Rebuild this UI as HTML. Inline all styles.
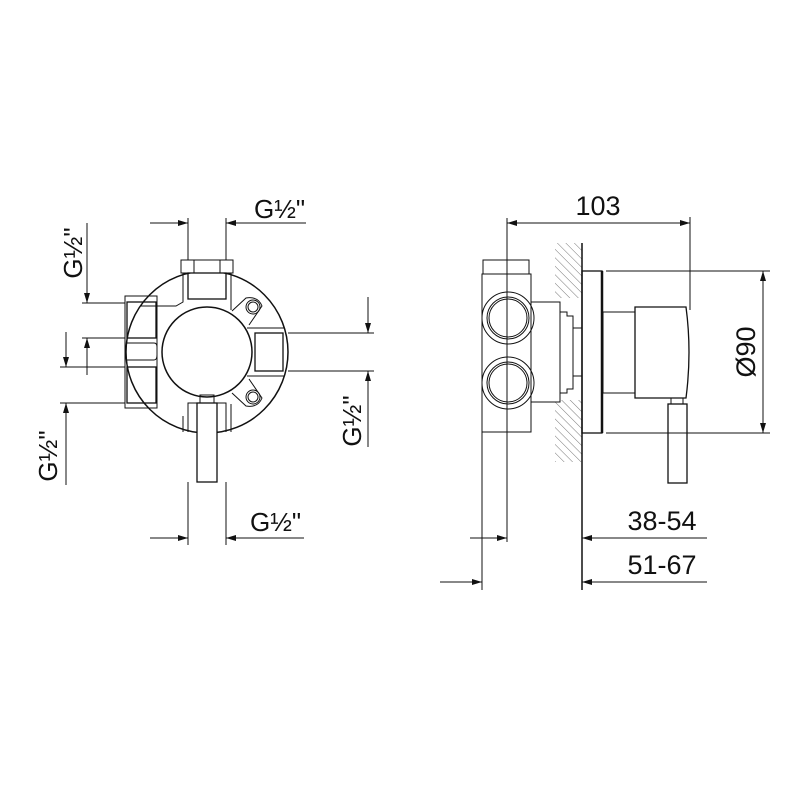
<!DOCTYPE html>
<html><head><meta charset="utf-8"><style>
html,body{margin:0;padding:0;background:#fff}
svg{display:block}
text{font-family:"Liberation Sans",sans-serif;fill:#111}
</style></head><body>
<svg width="800" height="800" viewBox="0 0 800 800" xmlns="http://www.w3.org/2000/svg">
<defs>
<marker id="a" viewBox="0 0 10 6" refX="10" refY="3" markerWidth="10" markerHeight="6" orient="auto" markerUnits="userSpaceOnUse"><path d="M0,0 L10,3 L0,6z" fill="#111"/></marker>
<pattern id="h" width="6" height="6" patternUnits="userSpaceOnUse" patternTransform="rotate(-45)"><line x1="0" y1="0" x2="0" y2="6" stroke="#777" stroke-width="1"/></pattern>
</defs>
<g stroke="#111" stroke-width="1" fill="none">
<!-- LEFT VIEW -->
<circle cx="207" cy="352" r="81" stroke-width="1.5"/>
<circle cx="207" cy="352" r="45" stroke-width="1.5"/>
<!-- top nut and port -->
<rect x="181" y="260" width="52" height="13" fill="#fff"/>
<line x1="194" y1="260" x2="194" y2="273"/><line x1="220" y1="260" x2="220" y2="273"/>
<rect x="188" y="273" width="38" height="26" stroke-width="1.3"/>
<path d="M183 273 V302 L176 306 H140 M231 273 V310"/>
<!-- left ports -->
<rect x="125" y="296" width="32" height="112"/>
<rect x="127" y="302" width="29" height="36" stroke-width="1.3"/>
<rect x="127" y="367" width="29" height="36" stroke-width="1.3"/>
<path d="M127 343 H154 Q157 343 157 347 V355 Q157 360 154 360 H127"/>
<!-- right port -->
<rect x="255" y="333" width="28" height="38" stroke-width="1.3"/>
<path d="M247 328 H285 M247 376 H285"/>
<!-- bolt lugs -->
<path d="M232 311 L246 298 Q258 296 262 306 L249 325"/>
<circle cx="253" cy="307" r="7"/><circle cx="253" cy="307" r="5"/>
<path d="M232 393 L246 406 Q258 408 262 398 L249 379"/>
<circle cx="253" cy="397" r="7"/><circle cx="253" cy="397" r="5"/>
<!-- bottom port/handle -->
<path d="M188 432 V403 H226 V432 M183 432 V416 M231 432 V404"/>
<rect x="200" y="395" width="14" height="8"/>
<rect x="197" y="403" width="20" height="79" fill="#fff" stroke-width="1.3"/>
<!-- dims top -->
<line x1="188" y1="218" x2="188" y2="260"/><line x1="226" y1="218" x2="226" y2="260"/>
<line x1="150" y1="223" x2="188" y2="223" marker-end="url(#a)"/>
<line x1="306" y1="223" x2="226" y2="223" marker-end="url(#a)"/>
<!-- dims bottom -->
<line x1="188" y1="482" x2="188" y2="545"/><line x1="226" y1="482" x2="226" y2="545"/>
<line x1="150" y1="538" x2="188" y2="538" marker-end="url(#a)"/>
<line x1="304" y1="538" x2="226" y2="538" marker-end="url(#a)"/>
<!-- left dim 1 -->
<line x1="82" y1="303" x2="125" y2="303"/><line x1="82" y1="338" x2="125" y2="338"/>
<line x1="87" y1="223" x2="87" y2="303" marker-end="url(#a)"/>
<line x1="87" y1="375" x2="87" y2="338" marker-end="url(#a)"/>
<!-- left dim 2 -->
<line x1="60" y1="367" x2="125" y2="367"/><line x1="60" y1="403" x2="125" y2="403"/>
<line x1="66" y1="332" x2="66" y2="367" marker-end="url(#a)"/>
<line x1="66" y1="485" x2="66" y2="403" marker-end="url(#a)"/>
<!-- right dim -->
<line x1="288" y1="333" x2="374" y2="333"/><line x1="288" y1="371" x2="374" y2="371"/>
<line x1="368" y1="297" x2="368" y2="333" marker-end="url(#a)"/>
<line x1="368" y1="447" x2="368" y2="371" marker-end="url(#a)"/>

<!-- RIGHT VIEW -->
<rect x="555" y="243" width="27" height="55" fill="url(#h)" stroke="none"/>
<rect x="555" y="400" width="27" height="62" fill="url(#h)" stroke="none"/>
<line x1="582" y1="243" x2="582" y2="590" stroke-width="1.5"/>
<rect x="483" y="260" width="46" height="14"/>
<rect x="482" y="274" width="49" height="158"/>
<circle cx="508" cy="318" r="26"/><circle cx="508" cy="318" r="21"/><circle cx="508" cy="318" r="19"/>
<circle cx="508" cy="383" r="26"/><circle cx="508" cy="383" r="21"/><circle cx="508" cy="383" r="19"/>
<path d="M531 302 H560 V402 H531"/>
<path d="M560 312 H567 V316 H573 V389 H567 V393 H560"/>
<path d="M573 328 H582 M573 376 H582"/>
<rect x="582" y="271" width="20" height="162" stroke-width="1.3"/>
<line x1="602" y1="271" x2="602" y2="433" stroke-width="2.5"/>
<rect x="603" y="312" width="32" height="81"/>
<path d="M635 307 H686 Q692 352 686 398 H635 Z" stroke-width="1.3"/>
<rect x="671" y="398" width="12" height="6"/>
<rect x="668" y="404" width="19" height="79" stroke-width="1.3"/>
<!-- 103 dim -->
<line x1="507" y1="218" x2="507" y2="542"/>
<line x1="690" y1="217" x2="690" y2="310"/>
<line x1="600" y1="223" x2="507" y2="223" marker-end="url(#a)"/>
<line x1="600" y1="223" x2="690" y2="223" marker-end="url(#a)"/>
<!-- Ø90 -->
<line x1="606" y1="271" x2="770" y2="271"/><line x1="606" y1="433" x2="770" y2="433"/>
<line x1="763" y1="352" x2="763" y2="271" marker-end="url(#a)"/>
<line x1="763" y1="352" x2="763" y2="433" marker-end="url(#a)"/>
<!-- 38-54 -->
<line x1="470" y1="538" x2="507" y2="538" marker-end="url(#a)"/>
<line x1="707" y1="538" x2="582" y2="538" marker-end="url(#a)"/>
<!-- 51-67 -->
<line x1="482" y1="432" x2="482" y2="590"/>
<line x1="440" y1="582" x2="482" y2="582" marker-end="url(#a)"/>
<line x1="707" y1="582" x2="582" y2="582" marker-end="url(#a)"/>
</g>
<g font-size="26">
<text x="254" y="218">G½"</text>
<text x="250" y="531">G½"</text>
<text transform="translate(82,253) rotate(-90)" text-anchor="middle">G½"</text>
<text transform="translate(57,456) rotate(-90)" text-anchor="middle">G½"</text>
<text transform="translate(361,421) rotate(-90)" text-anchor="middle">G½"</text>
<text x="598" y="215" text-anchor="middle" font-size="27">103</text>
<text transform="translate(755,352) rotate(-90)" text-anchor="middle" font-size="27">Ø90</text>
<text x="662" y="530" text-anchor="middle" font-size="27">38-54</text>
<text x="662" y="574" text-anchor="middle" font-size="27">51-67</text>
</g>
</svg>
</body></html>
